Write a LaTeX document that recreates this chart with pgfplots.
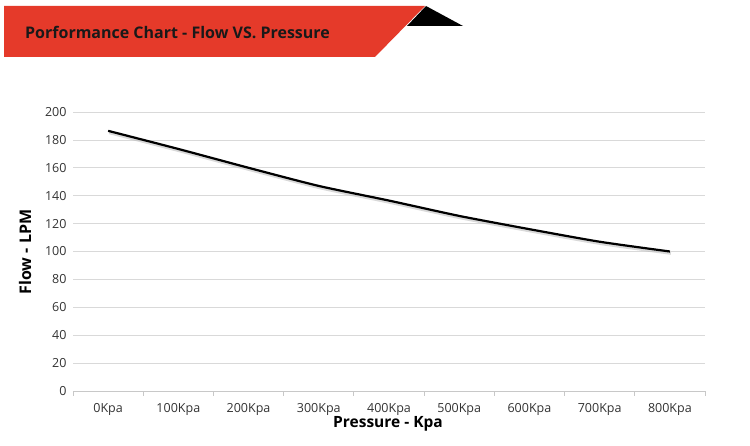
\documentclass[border=0pt]{standalone}
\usepackage{fontspec}
\setmainfont{Open Sans}
\usepackage{pgfplots}
\pgfplotsset{compat=1.18}
\definecolor{bannerred}{HTML}{E53A2A}
\definecolor{gridgray}{HTML}{D9D9D9}
\definecolor{axisgray}{HTML}{C8C8C8}
\definecolor{ticktext}{HTML}{333333}
\begin{document}
\begin{tikzpicture}[x=1pt,y=1pt]
  % canvas of 750 x 446
  \path (0,0) rectangle (750,446);
  % title banner
  \fill[bannerred] (4,440) -- (425,440) -- (375,389) -- (4,389) -- cycle;
  \fill[black] (426,440) -- (463,420) -- (407,420) -- cycle;
  \node[anchor=west,inner sep=0pt,font=\bfseries\fontsize{16}{18}\selectfont,text=black!90]
    at (25,414) {Porformance Chart - Flow VS. Pressure};

  \begin{axis}[
    at={(73pt,55pt)}, anchor=south west,
    scale only axis,
    width=632pt, height=279pt,
    xmin=-0.5, xmax=8.5,
    ymin=0, ymax=200,
    ytick={0,20,...,200},
    xtick={0,...,8},
    xticklabels={0Kpa,100Kpa,200Kpa,300Kpa,400Kpa,500Kpa,600Kpa,700Kpa,800Kpa},
    minor xtick={-0.5,0.5,...,8.5},
    axis x line*=bottom,
    axis y line*=left,
    x axis line style={axisgray,line width=0.8pt},
    y axis line style={draw=none},
    ymajorgrids,
    grid style={gridgray,line width=0.7pt},
    tick align=outside,
    major tick length=0pt,
    minor tick length=5pt,
    minor x tick style={axisgray,line width=0.8pt},
    tick label style={font=\fontsize{12.5}{14}\selectfont,text=ticktext},
    xticklabel style={yshift=-9pt},
    yticklabel style={xshift=-3pt},
    /pgf/number format/assume math mode=true,
  ]
    \addplot[black!25,opacity=0.6,line width=2.6pt,smooth,tension=0.4,
      shift={(1pt,-2pt)}]
      coordinates {(0,186.5) (1,173.5) (2,160) (3,147) (4,136.5)
                   (5,125.5) (6,116) (7,107) (8,100)};
    \addplot[black,line width=2.2pt,smooth,tension=0.4]
      coordinates {(0,186.5) (1,173.5) (2,160) (3,147) (4,136.5)
                   (5,125.5) (6,116) (7,107) (8,100)};
  \end{axis}

  \node[rotate=90,font=\bfseries\fontsize{16}{18}\selectfont] at (25,194) {Flow - LPM};
  \node[font=\bfseries\fontsize{15.5}{17}\selectfont] at (388,22) {Pressure - Kpa};
\end{tikzpicture}
\end{document}
